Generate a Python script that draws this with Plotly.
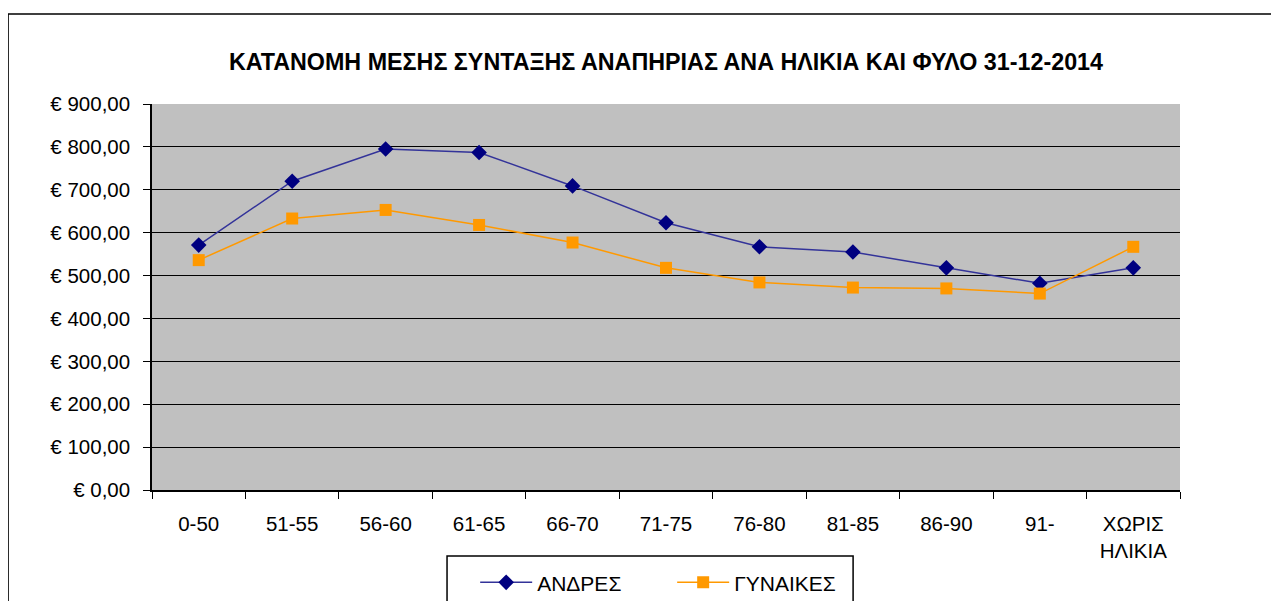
import plotly.graph_objects as go

age_groups = ["0-50", "51-55", "56-60", "61-65", "66-70", "71-75",
              "76-80", "81-85", "86-90", "91-", "ΧΩΡΙΣ<br>ΗΛΙΚΙΑ"]
men = [571, 720, 795, 787, 709, 623, 567, 555, 518, 482, 518]
women = [536, 633, 653, 618, 577, 518, 484, 472, 470, 458, 567]

y_ticks = [0, 100, 200, 300, 400, 500, 600, 700, 800, 900]
y_labels = ["€ %d,00" % v for v in y_ticks]

font = "Liberation Sans, Arial, sans-serif"

fig = go.Figure()
fig.add_trace(go.Scatter(
    x=age_groups, y=men, mode="lines+markers", name="ΑΝΔΡΕΣ",
    line=dict(color="#333399", width=1.5),
    marker=dict(symbol="diamond", size=12, color="#000080"),
))
fig.add_trace(go.Scatter(
    x=age_groups, y=women, mode="lines+markers", name="ΓΥΝΑΙΚΕΣ",
    line=dict(color="#FF9900", width=1.5),
    marker=dict(symbol="square", size=12, color="#FF9900"),
))

fig.update_layout(
    width=1279, height=601,
    margin=dict(l=144, r=107, t=96, b=119, autoexpand=False),
    paper_bgcolor="white", plot_bgcolor="#C0C0C0",
    font=dict(family=font, size=20.5, color="black"),
    title=dict(text="<b>ΚΑΤΑΝΟΜΗ ΜΕΣΗΣ ΣΥΝΤΑΞΗΣ ΑΝΑΠΗΡΙΑΣ ΑΝΑ ΗΛΙΚΙΑ ΚΑΙ ΦΥΛΟ 31-12-2014</b>",
               x=0.5, xref="paper", xanchor="center",
               y=0.910, yref="container", yanchor="middle",
               font=dict(family=font, size=23.3, color="black")),
    showlegend=True,
    legend=dict(orientation="h", x=0.506, xanchor="center", y=-0.187, yanchor="top",
                borderwidth=0, bgcolor="rgba(0,0,0,0)",
                font=dict(family=font, size=21), itemwidth=52,
                entrywidth=130),
    shapes=[
        # outer chart border
        dict(type="rect", xref="paper", yref="paper",
             x0=-0.14, x1=1.2, y0=-0.6, y1=1.233,
             line=dict(color="black", width=1.5), layer="below"),
        # legend box
        dict(type="rect", xref="paper", yref="paper",
             x0=0.287, x1=0.682, y0=-0.4, y1=-0.171,
             line=dict(color="black", width=1.5), fillcolor="white", layer="below"),
    ],
)
fig.update_xaxes(
    type="category", range=[-0.5, len(age_groups) - 0.5],
    tickson="boundaries", ticks="outside", ticklen=7,
    tickcolor="black", showline=True, linecolor="black", linewidth=1.5,
    showgrid=False, ticklabelstandoff=15,
)
fig.update_yaxes(
    range=[0, 900], tickvals=y_ticks, ticktext=y_labels,
    ticks="outside", ticklen=7, tickcolor="black",
    showline=True, linecolor="black", linewidth=1.5,
    showgrid=True, gridcolor="black", gridwidth=1, zeroline=False,
    ticklabelstandoff=9,
)

fig.write_html("out.html")
